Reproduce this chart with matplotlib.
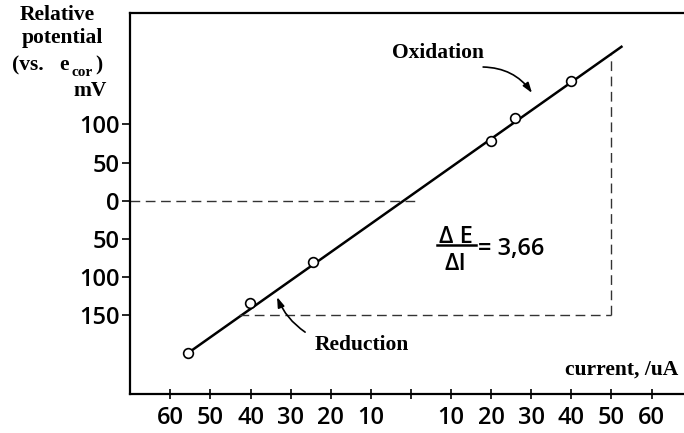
import matplotlib.pyplot as plt

# Puntos medidos: corriente (uA, negativo = reduccion) y potencial relativo (mV)
corriente = [-55.5, -40.1, -24.4, 20.0, 25.9, 39.9]
potencial = [-199, -133.5, -79.8, 78.5, 107.9, 157]

# Extremos de la recta trazada
recta_x = [-55.5, 52.5]
recta_y = [-199, 201.5]

# Marcas de los ejes
ticks_x = [-60, -50, -40, -30, -20, -10, 0, 10, 20, 30, 40, 50, 60]
etiquetas_x = ['60', '50', '40', '30', '20', '10', '', '10', '20', '30', '40', '50', '60']
ticks_y = [100, 50, 0, -50, -100, -150]
etiquetas_y = ['100', '50', '0', '50', '100', '150']

# Lineas guia punteadas
guia_cero_x = [-70.2, 2.2]
guia_150_x = [-43, 50]
guia_vert_y = [-150, 191]

fig = plt.figure(figsize=(6.84, 4.33), dpi=100)
ax = fig.add_axes([129.5 / 684, 39 / 433, (684 - 129.5) / 684, 381 / 433])
ax.set_xlim(-70.2, 68.1)
ax.set_ylim(-253, 245.7)

ax.spines['right'].set_visible(False)
for lado in ['left', 'top', 'bottom']:
    ax.spines[lado].set_linewidth(1.6)

# Recta y puntos
ax.plot(recta_x, recta_y, color='black', lw=1.8, zorder=2)
ax.plot(corriente, potencial, 'o', mfc='white', mec='black', ms=7, mew=1.2, zorder=3)

# Guias punteadas
estilo = dict(color='#333333', lw=1.0, dashes=(7, 4))
ax.plot(guia_cero_x, [0, 0], **estilo)
ax.plot(guia_150_x, [-150, -150], **estilo)
ax.plot([50, 50], guia_vert_y, **estilo)

# Ejes
sans = dict(fontfamily='Open Sans', fontweight='semibold')
ax.set_xticks(ticks_x)
ax.set_xticklabels(etiquetas_x, fontsize=17, **sans)
ax.set_yticks(ticks_y)
ax.set_yticklabels(etiquetas_y, fontsize=17, **sans)
ax.tick_params(axis='x', direction='inout', length=7, width=1.2, pad=5)
ax.tick_params(axis='y', direction='out', length=6, width=1.2, pad=1)

serif = dict(fontfamily='Liberation Serif', fontweight='bold', fontsize=15.5)

# Flechas y rotulos
ax.text(6.7, 186.8, 'Oxidation', ha='center', va='baseline', **serif)
ax.annotate('', xy=(30.2, 141), xytext=(18, 175),
            arrowprops=dict(arrowstyle='-|>,head_length=0.6,head_width=0.2', color='black',
                            lw=1.2, connectionstyle='arc3,rad=-0.25', shrinkA=0, shrinkB=0))
ax.text(-12.2, -195.3, 'Reduction', ha='center', va='baseline', **serif)
ax.annotate('', xy=(-33.4, -126), xytext=(-26.4, -172),
            arrowprops=dict(arrowstyle='-|>,head_length=0.6,head_width=0.2', color='black',
                            lw=1.2, connectionstyle='arc3,rad=-0.15', shrinkA=0, shrinkB=0))
ax.text(52.6, -228, 'current, /uA', ha='center', va='baseline', **serif)

# Pendiente
ax.text(11.2, -55.6, 'Δ E', ha='center', va='baseline', fontsize=17, **sans)
ax.plot([6.5, 16.2], [-58, -58], color='black', lw=1.8)
ax.text(11.0, -90.7, 'ΔI', ha='center', va='baseline', fontsize=17, **sans)
ax.text(16.6, -71, '= 3,66', ha='left', va='baseline', fontsize=17, **sans)

# Titulo del eje y (arriba a la izquierda)
def fpx(x, y):
    return x / 684, 1 - y / 433

serif2 = dict(fontfamily='Liberation Serif', fontweight='bold', fontsize=15.5)
fig.text(*fpx(57, 20), 'Relative', ha='center', va='baseline', **serif2)
fig.text(*fpx(62, 43), 'potential', ha='center', va='baseline', **serif2)
fig.text(*fpx(12, 70), '(vs.', ha='left', va='baseline', **serif2)
fig.text(*fpx(59, 70), 'e', ha='left', va='baseline', **serif2)
fig.text(*fpx(72, 76), 'cor', ha='left', va='baseline',
         fontfamily='Liberation Serif', fontweight='bold', fontsize=11)
fig.text(*fpx(95, 70), ')', ha='left', va='baseline', **serif2)
fig.text(*fpx(107, 96), 'mV', ha='right', va='baseline', **serif2)

plt.savefig('out.png')
